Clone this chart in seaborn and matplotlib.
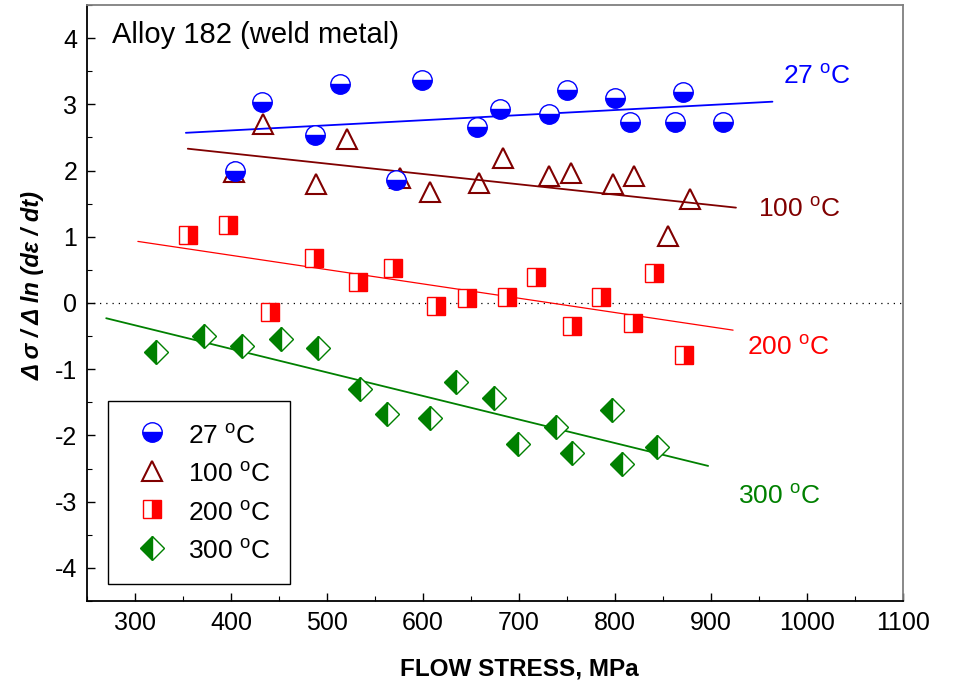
import numpy as np
import pandas as pd
import matplotlib
matplotlib.use("Agg")
import matplotlib.pyplot as plt
import seaborn as sns
from matplotlib.lines import Line2D
from matplotlib.ticker import MultipleLocator

# ---------------- data ----------------
x27 = [404, 432, 487, 514, 572, 599, 656, 680, 731, 750, 800, 816, 862, 871, 912]
y27 = [2.00, 3.04, 2.53, 3.31, 1.86, 3.37, 2.66, 2.93, 2.86, 3.22, 3.09, 2.74, 2.73, 3.18, 2.74]

x100 = [403, 433, 489, 521, 576, 607, 658, 683, 731, 754, 798, 820, 855, 878]
y100 = [1.98, 2.71, 1.79, 2.47, 1.89, 1.68, 1.81, 2.19, 1.92, 1.97, 1.79, 1.92, 1.01, 1.57]

x200 = [355, 397, 441, 486, 532, 569, 614, 646, 687, 718, 755, 785, 819, 841, 872]
y200 = [1.02, 1.18, -0.14, 0.68, 0.32, 0.53, -0.04, 0.08, 0.09, 0.39, -0.35, 0.09, -0.30, 0.46, -0.78]

x300 = [322, 372, 411, 452, 491, 534, 563, 607, 634, 674, 699, 739, 755, 797, 807, 844]
y300 = [-0.74, -0.50, -0.65, -0.54, -0.68, -1.30, -1.67, -1.73, -1.19, -1.44, -2.13, -1.87, -2.26, -1.61, -2.43, -2.17]

# fitted trend lines (end points)
fit27_x, fit27_y = [353, 964], [2.57, 3.04]
fit100_x, fit100_y = [355, 926], [2.33, 1.44]
fit200_x, fit200_y = [303, 923], [0.93, -0.41]
fit300_x, fit300_y = [270, 897], [-0.23, -2.46]

series_labels = ["27 $^{\\mathrm{o}}$C", "100 $^{\\mathrm{o}}$C", "200 $^{\\mathrm{o}}$C", "300 $^{\\mathrm{o}}$C"]
x_ticks = [300, 400, 500, 600, 700, 800, 900, 1000, 1100]
y_ticks = [-4, -3, -2, -1, 0, 1, 2, 3, 4]

# ---------------- style ----------------
sns.set_theme(style="white")
plt.rcParams['font.family'] = ['Liberation Sans', 'DejaVu Sans']
plt.rcParams['mathtext.fontset'] = 'custom'
plt.rcParams['mathtext.rm'] = 'Liberation Sans'
plt.rcParams['mathtext.it'] = 'Liberation Sans:italic'
plt.rcParams['mathtext.bf'] = 'Liberation Sans:bold'
plt.rcParams['axes.unicode_minus'] = False
plt.rcParams['text.color'] = 'black'
plt.rcParams['axes.labelcolor'] = 'black'
plt.rcParams['xtick.color'] = 'black'
plt.rcParams['ytick.color'] = 'black'

BLUE = '#0000FF'
DRED = '#800000'
RED = '#FF0000'
GREEN = '#008000'

fig = plt.figure(figsize=(9.56, 6.87), dpi=100)
ax = fig.add_axes([87/956, 1-601/687, 816/956, 596/687])

# trend lines
sns.lineplot(x=fit27_x, y=fit27_y, ax=ax, color=BLUE, lw=1.3, estimator=None, sort=False, zorder=2)
sns.lineplot(x=fit100_x, y=fit100_y, ax=ax, color=DRED, lw=1.3, estimator=None, sort=False, zorder=2)
sns.lineplot(x=fit200_x, y=fit200_y, ax=ax, color=RED, lw=0.9, estimator=None, sort=False, zorder=2)
sns.lineplot(x=fit300_x, y=fit300_y, ax=ax, color=GREEN, lw=1.3, estimator=None, sort=False, zorder=2)

ax.axhline(0, color='black', lw=0.9, ls=(0, (1, 4)), zorder=1)

sty100 = dict(marker='^', markersize=15, markerfacecolor='none', markeredgecolor=DRED,
              markeredgewidth=1.5, color=DRED)
sty27 = dict(marker='o', markersize=14, fillstyle='bottom', markerfacecolor=BLUE,
             markerfacecoloralt='white', markeredgecolor=BLUE, markeredgewidth=1.0, color=BLUE)
sty200 = dict(marker='s', markersize=12.5, fillstyle='right', markerfacecolor=RED,
              markerfacecoloralt='white', markeredgecolor=RED, markeredgewidth=1.0, color=RED)
sty300 = dict(marker='D', markersize=12, fillstyle='left', markerfacecolor=GREEN,
              markerfacecoloralt='white', markeredgecolor=GREEN, markeredgewidth=1.0, color=GREEN)

sns.lineplot(x=x100, y=y100, ax=ax, estimator=None, sort=False, linestyle='none', zorder=3, **sty100)
sns.lineplot(x=x27, y=y27, ax=ax, estimator=None, sort=False, linestyle='none', zorder=4, **sty27)
sns.lineplot(x=x200, y=y200, ax=ax, estimator=None, sort=False, linestyle='none', zorder=3, **sty200)
sns.lineplot(x=x300, y=y300, ax=ax, estimator=None, sort=False, linestyle='none', zorder=3, **sty300)

# axes limits / ticks
ax.set_xlim(250, 1100)
ax.set_ylim(-4.5, 4.5)
ax.set_xticks(x_ticks)
ax.set_yticks(y_ticks)
ax.xaxis.set_minor_locator(MultipleLocator(50))
ax.yaxis.set_minor_locator(MultipleLocator(0.5))
ax.tick_params(axis='both', which='major', direction='in', length=6, width=1, color='black',
               labelsize=18, labelcolor='black', pad=7, bottom=True, left=True, top=False, right=False)
ax.tick_params(axis='both', which='minor', direction='in', length=3.5, width=0.8, color='black',
               bottom=True, left=True, top=False, right=False)
ax.grid(False)

for side in ['left', 'bottom']:
    ax.spines[side].set_color('black')
    ax.spines[side].set_linewidth(1.3)
for side in ['top', 'right']:
    ax.spines[side].set_color('#7f7f7f')
    ax.spines[side].set_linewidth(1.3)

ax.set_xlabel("FLOW STRESS, MPa", fontsize=17.5, fontweight='bold', va='top', color='black')
ax.xaxis.set_label_coords(0.53, -0.095)
ax.set_ylabel("Δ σ / Δ ln (dε / dt)", fontsize=17, fontweight='bold', fontstyle='italic', color='black')
ax.yaxis.set_label_coords(-0.052, 0.53)

# annotations
ax.text(276, 3.93, "Alloy 182 (weld metal)", fontsize=21, color='black', ha='left', va='baseline')
ax.text(975, 3.31, series_labels[0], fontsize=19, color=BLUE, ha='left', va='baseline')
ax.text(949, 1.30, series_labels[1], fontsize=19, color=DRED, ha='left', va='baseline')
ax.text(937, -0.78, series_labels[2], fontsize=19, color=RED, ha='left', va='baseline')
ax.text(928, -3.03, series_labels[3], fontsize=19, color=GREEN, ha='left', va='baseline')

# legend
handles = [Line2D([], [], linestyle='none', **sty27),
           Line2D([], [], linestyle='none', **sty100),
           Line2D([], [], linestyle='none', **sty200),
           Line2D([], [], linestyle='none', **sty300)]
leg = ax.legend(handles, series_labels, loc='lower left', bbox_to_anchor=(0.0257, 0.0285),
                borderaxespad=0, fontsize=19, frameon=True, fancybox=False, framealpha=1,
                handlelength=1.89, handleheight=1.3, handletextpad=0.41, labelspacing=0.37,
                borderpad=0.73)
leg.get_frame().set_edgecolor('black')
leg.get_frame().set_linewidth(1.0)
for t in leg.get_texts():
    t.set_color('black')

fig.savefig("out.png", dpi=100)
